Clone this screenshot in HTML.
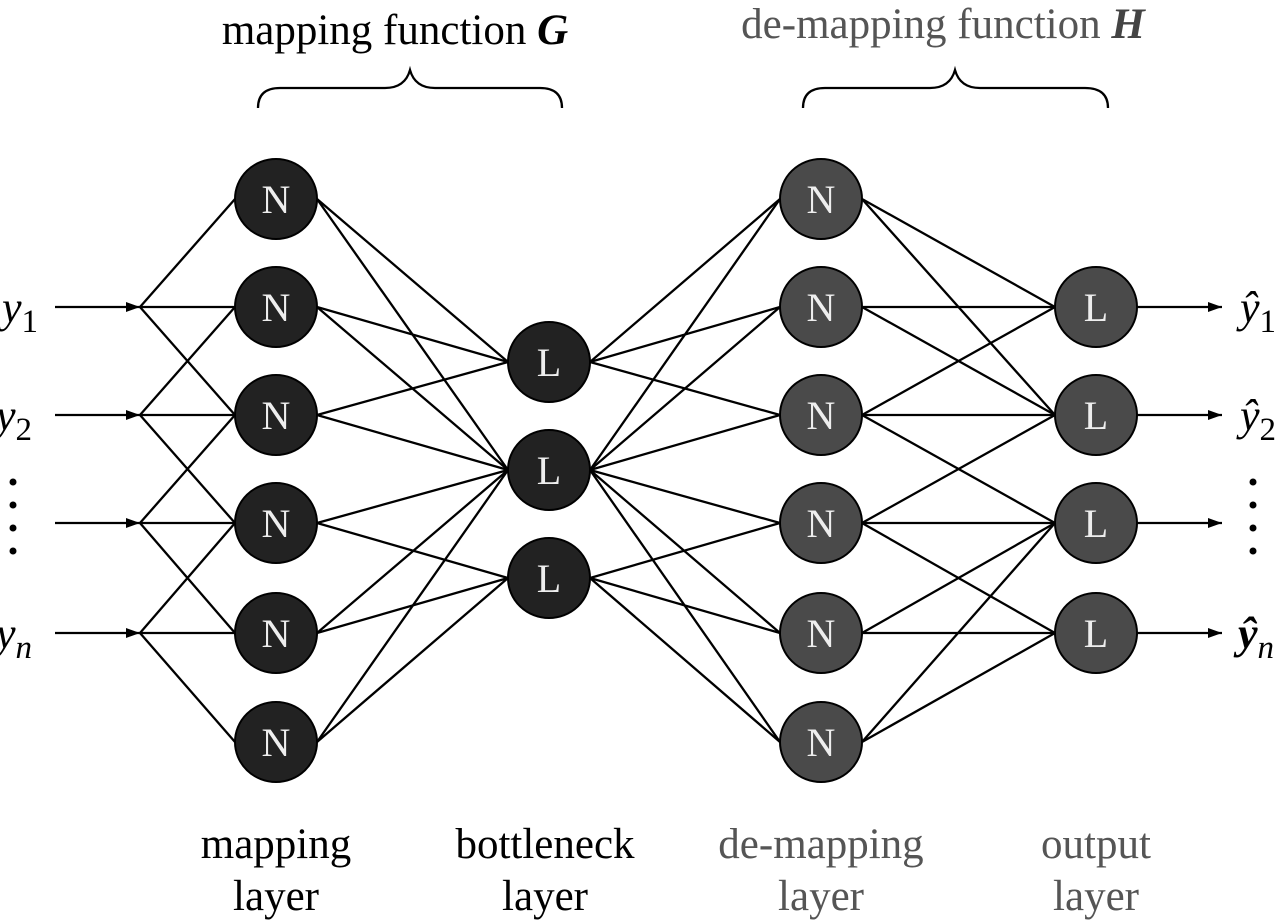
<!DOCTYPE html>
<html><head><meta charset="utf-8"><style>html,body{margin:0;padding:0;background:#fff}svg{display:block}</style></head>
<body>
<svg id="s" width="1280" height="921" viewBox="0 0 1280 921" xmlns="http://www.w3.org/2000/svg" font-family="Liberation Serif, serif">
<defs><marker id="a" markerWidth="14" markerHeight="10" refX="14" refY="5" orient="auto" markerUnits="userSpaceOnUse"><path d="M0,0 L14,5 L0,10 Z" fill="#000"/></marker></defs>
<g id="lines" stroke="#000" stroke-width="2.3" fill="none"></g>
<g id="nodes"></g>
<g font-size="43" text-anchor="middle">
<text x="395" y="44">mapping function <tspan font-style="italic" font-weight="bold">G</tspan></text>
<text x="943" y="38" fill="#555">de-mapping function <tspan font-style="italic" font-weight="bold" fill="#444">H</tspan></text>
<text x="276" y="858">mapping</text><text x="276" y="910">layer</text>
<text x="545" y="858">bottleneck</text><text x="545" y="910">layer</text>
<text x="821" y="858" fill="#555">de-mapping</text><text x="821" y="910" fill="#555">layer</text>
<text x="1096" y="858" fill="#555">output</text><text x="1096" y="910" fill="#555">layer</text>
</g>
<path d="M258,108 Q258,88 280,88 L385,88 Q405,88 410,70 Q415,88 435,88 L540,88 Q562,88 562,108" stroke="#000" stroke-width="2.3" fill="none"/>
<path d="M803,108 Q803,88 825,88 L930,88 Q950,88 955,70 Q960,88 980,88 L1085,88 Q1108,88 1108,108" stroke="#000" stroke-width="2.3" fill="none"/>
<g font-size="44" font-style="italic">
<text x="2" y="322">y<tspan font-style="normal" font-size="33" dy="10">1</tspan></text>
<text x="-4" y="430">y<tspan font-style="normal" font-size="33" dy="10">2</tspan></text>
<text x="-4" y="648">y<tspan font-size="33" dy="10">n</tspan></text>
<text x="1240" y="322">ŷ<tspan font-style="normal" font-size="33" dy="10">1</tspan></text>
<text x="1240" y="430">ŷ<tspan font-style="normal" font-size="33" dy="10">2</tspan></text>
<text x="1238" y="648" font-weight="bold">ŷ<tspan font-weight="normal" font-size="33" dy="10">n</tspan></text>
</g>
<g fill="#000"><circle cx="13" cy="482" r="3.5"/><circle cx="13" cy="505" r="3.5"/><circle cx="13" cy="528" r="3.5"/><circle cx="13" cy="551" r="3.5"/>
<circle cx="1253" cy="482" r="3.5"/><circle cx="1253" cy="505" r="3.5"/><circle cx="1253" cy="528" r="3.5"/><circle cx="1253" cy="551" r="3.5"/></g>
</svg>
<script>
const NS="http://www.w3.org/2000/svg";
const L=document.getElementById('lines'),Nd=document.getElementById('nodes');
const M=[199,307,415,523,633,742],B=[362,470,578],O=[307,415,523,633];
function ln(x1,y1,x2,y2,m){const e=document.createElementNS(NS,'line');e.setAttribute('x1',x1);e.setAttribute('y1',y1);e.setAttribute('x2',x2);e.setAttribute('y2',y2);if(m)e.setAttribute('marker-end','url(#a)');L.appendChild(e);}
function nd(x,y,t,f){const c=document.createElementNS(NS,'ellipse');c.setAttribute('cx',x);c.setAttribute('cy',y);c.setAttribute('rx',41);c.setAttribute('ry',40);c.setAttribute('fill',f);c.setAttribute('stroke','#000');c.setAttribute('stroke-width',2);Nd.appendChild(c);const s=document.createElementNS(NS,'text');s.setAttribute('x',x);s.setAttribute('y',y+14);s.setAttribute('text-anchor','middle');s.setAttribute('font-size','40');s.setAttribute('fill','#eee');s.textContent=t;Nd.appendChild(s);}
O.forEach((y,i)=>{ln(55,y,140,y,true);for(let k=0;k<3;k++)ln(140,y,235,M[i+k]);ln(1137,y,1222,y,true);});
const MB=[[0,1],[0,1],[0,1],[1,2],[1,2],[1,2]];
M.forEach((a,i)=>MB[i].forEach(j=>{ln(317,a,508,B[j]);ln(590,B[j],780,a);}));
const E=[[0,0],[0,1],[1,0],[1,1],[2,0],[2,1],[2,2],[3,1],[3,2],[3,3],[4,2],[4,3],[5,2],[5,3]];
E.forEach(([m,o])=>ln(862,M[m],1055,O[o]));
M.forEach(y=>{nd(276,y,'N','#222');nd(821,y,'N','#4a4a4a');});
B.forEach(y=>nd(549,y,'L','#222'));O.forEach(y=>nd(1096,y,'L','#4a4a4a'));
</script>
</body></html>
